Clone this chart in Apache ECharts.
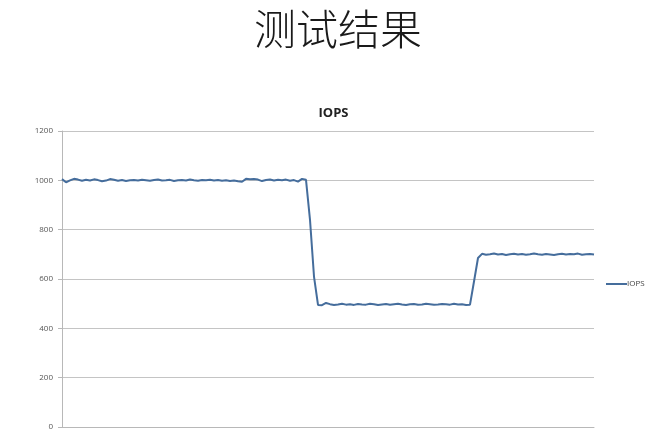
<!DOCTYPE html>
<html>
<head>
    <meta charset="utf-8">
    <title>测试结果</title>
    <script src="https://cdn.jsdelivr.net/npm/echarts@6/dist/echarts.min.js"></script>
    <style>
        html, body { margin: 0; padding: 0; background: #fff; }
    </style>
</head>
<body>
    <div id="main" style="width: 667px;height:444px;"></div>
    <script type="text/javascript">
        // IOPS samples (one every ~4px of plot width)
        var highPhase = [
            1005, 992, 1000, 1006, 1003, 998, 1002, 999, 1004, 1001,
            996, 999, 1005, 1002, 998, 1001, 997, 1000, 1001, 999,
            1002, 1000, 998, 1001, 1003, 999, 1000, 1002, 997, 1000,
            1001, 999, 1003, 1000, 998, 1001, 1000, 1002, 999, 1001,
            998, 1000, 997, 999, 996, 994, 1006, 1004, 1005, 1003,
            997, 1001, 1003, 999, 1002, 1000, 1003, 998, 1001, 995,
            1006, 1002
        ];
        var dropPhase = [840, 610];
        var lowPhase = [
            495, 494, 503, 498, 495, 497, 500, 496, 498, 495,
            499, 497, 496, 500, 498, 495, 497, 499, 496, 498,
            500, 497, 495, 498, 499, 496, 497, 500, 498, 496,
            497, 499, 498, 496, 500, 497, 498, 495, 496
        ];
        var risePhase = [590, 685];
        var midPhase = [
            702, 698, 700, 703, 699, 701, 697, 700, 702, 699,
            701, 698, 700, 703, 700, 698, 701, 699, 697, 700,
            702, 699, 701, 700, 703, 698, 700, 701, 699
        ];
        var yTicks = [0, 200, 400, 600, 800, 1000, 1200];

        var iops = highPhase.concat(dropPhase, lowPhase, risePhase, midPhase);
        var samples = [];
        for (var i = 0; i < iops.length; i++) {
            samples.push(i + 1);
        }

        var myChart = echarts.init(document.getElementById('main'));
        var option = {
            animation: false,
            backgroundColor: '#fff',
            title: [{
                text: '测试结果',
                left: 254,
                top: 8,
                padding: 0,
                textStyle: {
                    fontFamily: 'Noto Sans CJK SC',
                    fontSize: 42,
                    fontWeight: 300,
                    color: '#1a1a1a'
                }
            }, {
                text: 'IOPS',
                left: 'center',
                top: 102,
                textStyle: {
                    fontFamily: 'Open Sans',
                    fontSize: 13,
                    fontWeight: 'bold',
                    color: '#222'
                }
            }],
            legend: {
                left: 601,
                top: 275,
                icon: 'rect',
                itemWidth: 21,
                itemHeight: 2,
                textStyle: {
                    fontFamily: 'Open Sans',
                    fontSize: 8,
                    color: '#444',
                    padding: [0, 0, 0, -5]
                },
                data: ['IOPS']
            },
            grid: {
                left: 62,
                right: 73,
                top: 131,
                bottom: 17
            },
            xAxis: {
                type: 'category',
                data: samples,
                boundaryGap: false,
                axisLine: { lineStyle: { color: '#b8b8b8', width: 1 } },
                axisTick: { show: false },
                axisLabel: { show: false },
                splitLine: { show: false }
            },
            yAxis: {
                type: 'value',
                min: yTicks[0],
                max: yTicks[yTicks.length - 1],
                interval: 200,
                axisLine: { show: true, lineStyle: { color: '#b8b8b8', width: 1 } },
                axisTick: { show: true, length: 4, lineStyle: { color: '#b8b8b8' } },
                axisLabel: {
                    fontFamily: 'Open Sans',
                    fontSize: 8,
                    color: '#555',
                    margin: 9,
                    formatter: function (v) { return String(v); }
                },
                splitLine: { lineStyle: { color: '#c4c4c4', width: 1 } }
            },
            series: [{
                name: 'IOPS',
                type: 'line',
                data: iops,
                showSymbol: false,
                smooth: false,
                lineStyle: { color: '#456d9c', width: 2 },
                itemStyle: { color: '#456d9c' }
            }]
        };
        myChart.setOption(option);
    </script>
</body>
</html>
